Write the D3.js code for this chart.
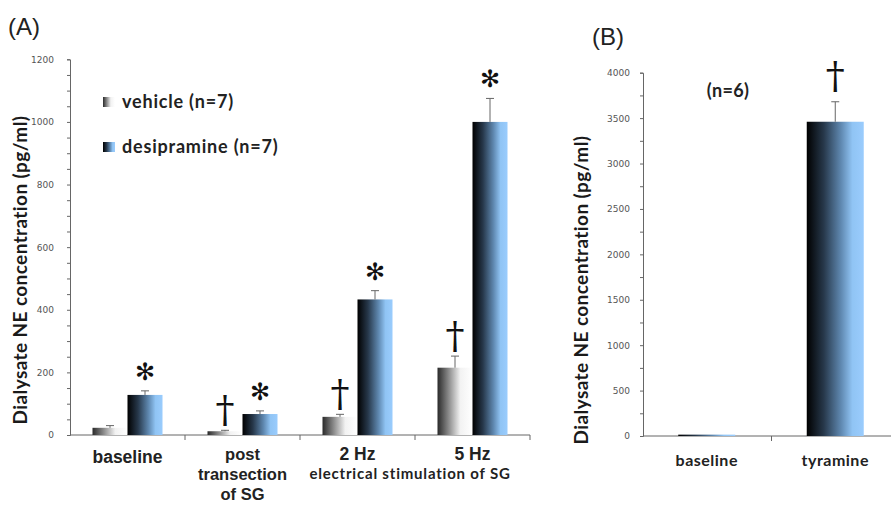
<!DOCTYPE html>
<html>
<head>
<meta charset="utf-8">
<script src="https://cdn.jsdelivr.net/npm/d3@7"></script>
<style>
  body { margin: 0; background: #fff; }
  svg { display: block; }
  .tick text { font-family: "DejaVu Sans", sans-serif; font-size: 9px; fill: #555; }
  .lbl { font-family: "Liberation Sans", Arial, sans-serif; font-weight: bold; fill: #222; }
  .cal { font-family: Lato, "Open Sans", sans-serif; font-weight: bold; fill: #222; }
  .ttl { font-family: Lato, "Open Sans", sans-serif; font-weight: bold; fill: #1a1a1a; }
</style>
</head>
<body>
<svg id="chart" width="891" height="505"></svg>
<script>
// panel A data
var categoriesA = ["baseline", "post", "2 Hz", "5 Hz"];
var vehicleMean = [23, 12, 58, 215];
var vehicleErr  = [7, 3, 8, 37];
var desiMean    = [128, 67, 433, 1000];
var desiErr     = [13, 10, 28, 75];
var vehicleMark = ["", "†", "†", "†"];
var desiMark    = ["✻", "✻", "✻", "✻"];
var ticksA = d3.range(0, 1201, 50);

// panel B data
var categoriesB = ["baseline", "tyramine"];
var tyrMean = [15, 3460];
var tyrErr  = [0, 220];
var tyrMark = ["", "†"];
var ticksB = d3.range(0, 4001, 250);

var svg = d3.select("#chart");

// gradients
var defs = svg.append("defs");
var gv = defs.append("linearGradient").attr("id", "gVeh");
[[0, "#2a2a2a"], [0.3, "#858585"], [0.65, "#f2f2f2"], [1, "#ffffff"]].forEach(function(s) {
  gv.append("stop").attr("offset", s[0]).attr("stop-color", s[1]);
});
var gd = defs.append("linearGradient").attr("id", "gDes");
[[0, "#000000"], [0.3, "#27384b"], [0.6, "#5f88b0"], [0.8, "#90c4f4"], [1, "#9accfd"]].forEach(function(s) {
  gd.append("stop").attr("offset", s[0]).attr("stop-color", s[1]);
});

// ---------- panel A ----------
var xA = d3.scaleBand().domain(categoriesA).range([70, 530]);
var yA = d3.scaleLinear().domain([0, 1200]).range([435, 59.3]);
var bw = 35;

var gA = svg.append("g");

var yAxisA = d3.axisLeft(yA).tickValues(ticksA).tickSize(3).tickPadding(13)
  .tickFormat(function(d) { return d % 200 === 0 ? d : ""; });
gA.append("g").attr("transform", "translate(70,0)").call(yAxisA)
  .call(function(g) { g.selectAll("line, path").attr("stroke", "#666"); });

gA.append("line").attr("x1", 70).attr("x2", 530).attr("y1", 435).attr("y2", 435).attr("stroke", "#666");
categoriesA.forEach(function(c) {
  var x1 = xA(c) + xA.bandwidth();
  gA.append("line").attr("x1", x1).attr("x2", x1).attr("y1", 435).attr("y2", 440).attr("stroke", "#666");
});

function errBar(g, cx, yTop, yMid) {
  g.append("line").attr("x1", cx).attr("x2", cx).attr("y1", yMid).attr("y2", yTop).attr("stroke", "#666");
  g.append("line").attr("x1", cx - 4).attr("x2", cx + 4).attr("y1", yTop).attr("y2", yTop).attr("stroke", "#666");
}
function mark(g, sym, cx, y) {
  if (!sym) return;
  if (sym === "†") {
    g.append("text").attr("x", cx).attr("y", y - 2).attr("text-anchor", "middle")
      .attr("font-family", "DejaVu Serif, serif")
      .attr("font-size", 38).attr("fill", "#111").text(sym);
  } else {
    g.append("text").attr("x", cx).attr("y", y).attr("text-anchor", "middle")
      .attr("font-family", "DejaVu Sans, sans-serif").attr("font-weight", "bold")
      .attr("font-size", 24).attr("fill", "#111").text(sym);
  }
}

categoriesA.forEach(function(c, i) {
  var cx = xA(c) + xA.bandwidth() / 2;
  var xv = cx - bw, xd = cx;
  gA.append("rect").attr("x", xv).attr("width", bw)
    .attr("y", yA(vehicleMean[i])).attr("height", yA(0) - yA(vehicleMean[i])).attr("fill", "url(#gVeh)");
  gA.append("rect").attr("x", xd).attr("width", bw)
    .attr("y", yA(desiMean[i])).attr("height", yA(0) - yA(desiMean[i])).attr("fill", "url(#gDes)");
  errBar(gA, xv + bw / 2, yA(vehicleMean[i] + vehicleErr[i]), yA(vehicleMean[i]));
  errBar(gA, xd + bw / 2, yA(desiMean[i] + desiErr[i]), yA(desiMean[i]));
  mark(gA, vehicleMark[i], xv + bw / 2, yA(vehicleMean[i] + vehicleErr[i]) - 6);
  mark(gA, desiMark[i], xd + bw / 2, yA(desiMean[i] + desiErr[i]) - 11);
});

// category labels A
var labA = [["baseline"], ["post", "transection", "of SG"], ["2 Hz"], ["5 Hz"]];
var lineY = [460, 480, 500];
categoriesA.forEach(function(c, i) {
  var cx = xA(c) + xA.bandwidth() / 2;
  labA[i].forEach(function(t, j) {
    gA.append("text").attr("class", "lbl").attr("x", cx)
      .attr("y", i === 0 ? 463 : lineY[j])
      .attr("text-anchor", "middle").attr("font-size", i === 1 ? 16.5 : 17.5).text(t);
  });
});
gA.append("text").attr("class", "cal").attr("x", 410).attr("y", 479)
  .attr("text-anchor", "middle").attr("font-size", 15).attr("letter-spacing", 0.8)
  .text("electrical stimulation of SG");

// legend
gA.append("rect").attr("x", 103).attr("y", 97).attr("width", 12).attr("height", 10).attr("fill", "url(#gVeh)");
gA.append("rect").attr("x", 103).attr("y", 142).attr("width", 12).attr("height", 10).attr("fill", "url(#gDes)");
gA.append("text").attr("class", "cal").attr("x", 122).attr("y", 108).attr("font-size", 18)
  .attr("letter-spacing", 0.8).text("vehicle  (n=7)");
gA.append("text").attr("class", "cal").attr("x", 122).attr("y", 153).attr("font-size", 18)
  .attr("letter-spacing", 0.8).text("desipramine (n=7)");

gA.append("text").attr("class", "ttl").attr("transform", "translate(27,270) rotate(-90)")
  .attr("text-anchor", "middle").attr("font-size", 19).attr("letter-spacing", 0.4)
  .text("Dialysate NE concentration (pg/ml)");
svg.append("text").attr("x", 8).attr("y", 35).attr("font-family", "Liberation Sans, Arial, sans-serif")
  .attr("font-size", 24).attr("fill", "#222").text("(A)");

// ---------- panel B ----------
var xB = d3.scaleBand().domain(categoriesB).range([643, 900]);
var yB = d3.scaleLinear().domain([0, 4000]).range([436, 72.7]);
var gB = svg.append("g");

var yAxisB = d3.axisLeft(yB).tickValues(ticksB).tickSize(3).tickPadding(10)
  .tickFormat(function(d) { return d % 500 === 0 ? d : ""; });
gB.append("g").attr("transform", "translate(643,0)").call(yAxisB)
  .call(function(g) { g.selectAll("line, path").attr("stroke", "#666"); });
gB.append("line").attr("x1", 643).attr("x2", 891).attr("y1", 436).attr("y2", 436).attr("stroke", "#666");
gB.append("line").attr("x1", xB("tyramine")).attr("x2", xB("tyramine")).attr("y1", 436).attr("y2", 441).attr("stroke", "#666");

var bwB = 57;
categoriesB.forEach(function(c, i) {
  var cx = xB(c) + xB.bandwidth() / 2 - 0.5;
  gB.append("rect").attr("x", cx - bwB / 2).attr("width", bwB)
    .attr("y", yB(tyrMean[i])).attr("height", yB(0) - yB(tyrMean[i])).attr("fill", "url(#gDes)");
  if (tyrErr[i] > 0) errBar(gB, cx, yB(tyrMean[i] + tyrErr[i]), yB(tyrMean[i]));
  mark(gB, tyrMark[i], cx, yB(tyrMean[i] + tyrErr[i]) - 12);
  gB.append("text").attr("class", "cal").attr("x", cx).attr("y", 466)
    .attr("text-anchor", "middle").attr("font-size", 16).attr("letter-spacing", 0.5).text(c);
});

gB.append("text").attr("class", "cal").attr("x", 728).attr("y", 97)
  .attr("text-anchor", "middle").attr("font-size", 18).attr("letter-spacing", 0.3).text("(n=6)");
gB.append("text").attr("class", "ttl").attr("transform", "translate(588,290) rotate(-90)")
  .attr("text-anchor", "middle").attr("font-size", 19).attr("letter-spacing", 0.4)
  .text("Dialysate NE concentration (pg/ml)");
svg.append("text").attr("x", 592).attr("y", 45).attr("font-family", "Liberation Sans, Arial, sans-serif")
  .attr("font-size", 24).attr("fill", "#222").text("(B)");
</script>
</body>
</html>
